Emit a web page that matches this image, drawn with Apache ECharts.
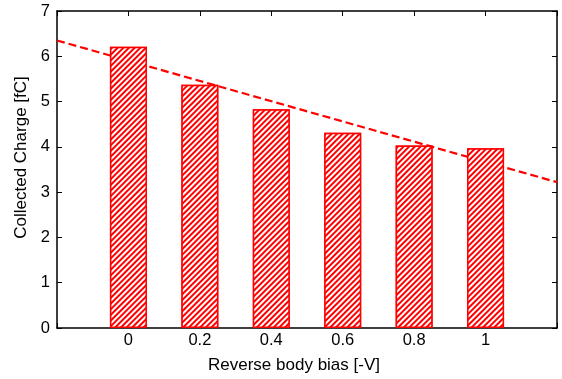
<!DOCTYPE html>
<html>
<head>
<meta charset="utf-8">
<script src="https://cdn.jsdelivr.net/npm/echarts@6/dist/echarts.min.js"></script>
<style>
  html, body { margin: 0; padding: 0; background: #fff; }
  #chart { width: 562px; height: 379px; }
</style>
</head>
<body>
<div id="chart"></div>
<script>
// Reverse body bias values [-V] and collected charge [fC]
const biasValues = [0, 0.2, 0.4, 0.6, 0.8, 1];
const chargeValues = [6.21, 5.37, 4.83, 4.31, 4.03, 3.97];
// Linear trend end points (bias, charge)
const trendBias = [-0.2, 1.2];
const trendCharge = [6.35, 3.22];
const xTickLabels = ['0', '0.2', '0.4', '0.6', '0.8', '1'];
const yTickLabels = ['0', '1', '2', '3', '4', '5', '6', '7'];

const chart = echarts.init(document.getElementById('chart'), null, { renderer: 'canvas' });
const font = '"Liberation Sans", Arial, Helvetica, sans-serif';

function xLabel(v) {
  const r = Math.round(v * 10) / 10;
  const i = biasValues.findIndex(b => Math.abs(b - r) < 1e-6);
  return i >= 0 ? xTickLabels[i] : '';
}
function yLabel(v) {
  const i = Math.round(v);
  return yTickLabels[i] !== undefined ? yTickLabels[i] : '';
}

const axisLine = { show: true, onZero: false, lineStyle: { color: '#000', width: 1.5 } };
const tick = { show: true, inside: true, length: 5, lineStyle: { color: '#000', width: 1 } };

chart.setOption({
  animation: false,
  backgroundColor: '#ffffff',
  grid: { left: 57, right: 5, top: 11, bottom: 48, containLabel: false },
  xAxis: [
    {
      type: 'value', min: -0.2, max: 1.2, interval: 0.2, position: 'bottom',
      name: 'Reverse body bias [-V]', nameLocation: 'middle', nameGap: 29,
      nameTextStyle: { fontFamily: font, fontSize: 17, color: '#000', padding: [0, 26, 0, 0] },
      axisLine: axisLine, axisTick: tick, splitLine: { show: false },
      axisLabel: { formatter: xLabel, fontFamily: font, fontSize: 16.5, color: '#000', margin: 4 }
    },
    {
      type: 'value', min: -0.2, max: 1.2, interval: 0.2, position: 'top',
      axisLine: axisLine, axisTick: tick, splitLine: { show: false },
      axisLabel: { show: false }
    }
  ],
  yAxis: [
    {
      type: 'value', min: 0, max: 7, interval: 1, position: 'left',
      name: 'Collected Charge [fC]', nameLocation: 'middle', nameGap: 19, nameRotate: 90,
      nameTextStyle: { fontFamily: font, fontSize: 17, color: '#000', padding: [0, 0, 0, 24] },
      axisLine: axisLine, axisTick: tick, splitLine: { show: false },
      axisLabel: { formatter: yLabel, fontFamily: font, fontSize: 16.5, color: '#000', margin: 7 }
    },
    {
      type: 'value', min: 0, max: 7, interval: 1, position: 'right',
      axisLine: axisLine, axisTick: tick, splitLine: { show: false },
      axisLabel: { show: false }
    }
  ],
  series: [
    {
      type: 'line', z: 1,
      data: trendBias.map((b, i) => [b, trendCharge[i]]),
      symbol: 'none',
      lineStyle: { color: '#ff0000', width: 2.2, type: [8, 4] }
    },
    {
      type: 'bar', z: 3, barWidth: 37,
      data: biasValues.map((b, i) => [b, chargeValues[i]]),
      itemStyle: {
        color: '#ffffff',
        borderColor: '#ff0000', borderWidth: 1.5,
        decal: {
          symbol: 'rect',
          color: '#ff0000',
          backgroundColor: '#ffffff',
          dashArrayX: [[1, 0]],
          dashArrayY: [1.1, 1.4],
          rotation: -Math.PI / 4
        }
      }
    }
  ]
});
</script>
</body>
</html>
